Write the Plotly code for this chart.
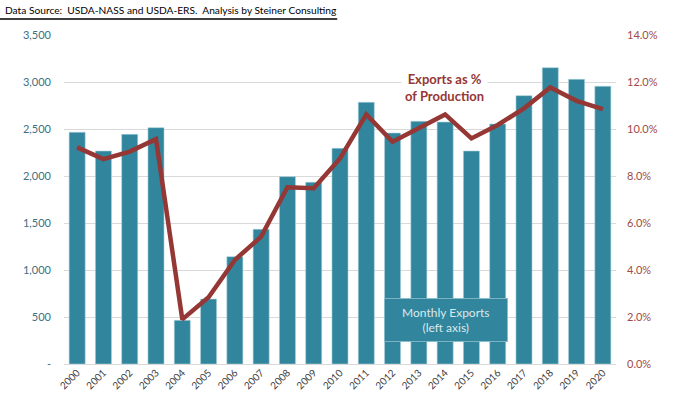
import plotly.graph_objects as go

years = [str(y) for y in range(2000, 2021)]
exports = [2465, 2266, 2443, 2514, 465, 691, 1142, 1433, 1993, 1933, 2294,
           2784, 2457, 2582, 2574, 2266, 2553, 2855, 3152, 3028, 2954]
pct_production = [9.22, 8.72, 9.04, 9.57, 1.90, 2.84, 4.43, 5.42, 7.52, 7.48, 8.75,
                  10.62, 9.46, 10.03, 10.62, 9.60, 10.17, 10.88, 11.77, 11.20, 10.85]

left_ticks = [0, 500, 1000, 1500, 2000, 2500, 3000, 3500]
left_text = ["-", "500", "1,000", "1,500", "2,000", "2,500", "3,000", "3,500"]
right_ticks = [0, 2, 4, 6, 8, 10, 12, 14]
right_text = ["0.0%", "2.0%", "4.0%", "6.0%", "8.0%", "10.0%", "12.0%", "14.0%"]

TEAL = "#31859c"
RED = "#953735"
FONT = "Lato"

fig = go.Figure()
fig.add_trace(go.Bar(x=years, y=exports, marker=dict(color=TEAL, line=dict(color="#a9d0dc", width=0.6)),
                     yaxis="y", showlegend=False))
fig.add_trace(go.Scatter(x=years, y=pct_production, mode="lines", line=dict(color=RED, width=4.5),
                         yaxis="y2", showlegend=False))

fig.update_layout(
    width=673, height=403,
    margin=dict(l=64, r=57, t=35, b=39),
    paper_bgcolor="white", plot_bgcolor="white",
    bargap=0.39,
    font=dict(family=FONT, size=11),
    xaxis=dict(type="category", range=[-0.5, 20.5], tickangle=-45, showgrid=False,
               tickfont=dict(size=10, color="#404040"), automargin=False,
               showline=False, ticks=""),
    yaxis=dict(range=[0, 3500], tickvals=left_ticks, ticktext=left_text,
               tickfont=dict(size=11, color="#3d6f80"), showgrid=True, gridcolor="#d9d9d9",
               gridwidth=1, zeroline=True, zerolinecolor="#d9d9d9", zerolinewidth=1,
               automargin=False, ticklabelstandoff=12),
    yaxis2=dict(range=[0, 14], tickvals=right_ticks, ticktext=right_text, overlaying="y",
                side="right", showgrid=False, zeroline=False,
                tickfont=dict(size=11, color="#a04a48"), automargin=False,
                ticklabelstandoff=10),
)

fig.add_annotation(xref="paper", yref="paper", x=-0.111, y=1.076, xanchor="left", yanchor="middle",
                   text="Data Source:  USDA-NASS and USDA-ERS.  Analysis by Steiner Consulting",
                   showarrow=False, font=dict(size=10.2, color="black", family=FONT))
fig.add_shape(type="line", xref="paper", yref="paper", x0=-0.116, x1=0.495, y0=1.0486, y1=1.0486,
              line=dict(color="black", width=1.5))

fig.add_annotation(xref="paper", yref="paper", x=0.69, y=0.839, xanchor="center", yanchor="middle",
                   text="<b>Exports as %<br>of Production</b>", showarrow=False,
                   font=dict(size=13, color=RED, family=FONT), bgcolor="white", borderpad=3)
fig.add_annotation(xref="paper", yref="paper", x=0.692, y=0.134, xanchor="center", yanchor="middle",
                   text="Monthly Exports<br>(left axis)", showarrow=False,
                   font=dict(size=12, color="#dbe8ec", family=FONT), bgcolor=TEAL,
                   bordercolor="#8fc0ce", borderwidth=0.8, borderpad=6, width=110)

fig.write_html("out.html", config={"displayModeBar": False},
               post_script="document.body.style.margin='0';document.body.style.overflow='hidden';")
